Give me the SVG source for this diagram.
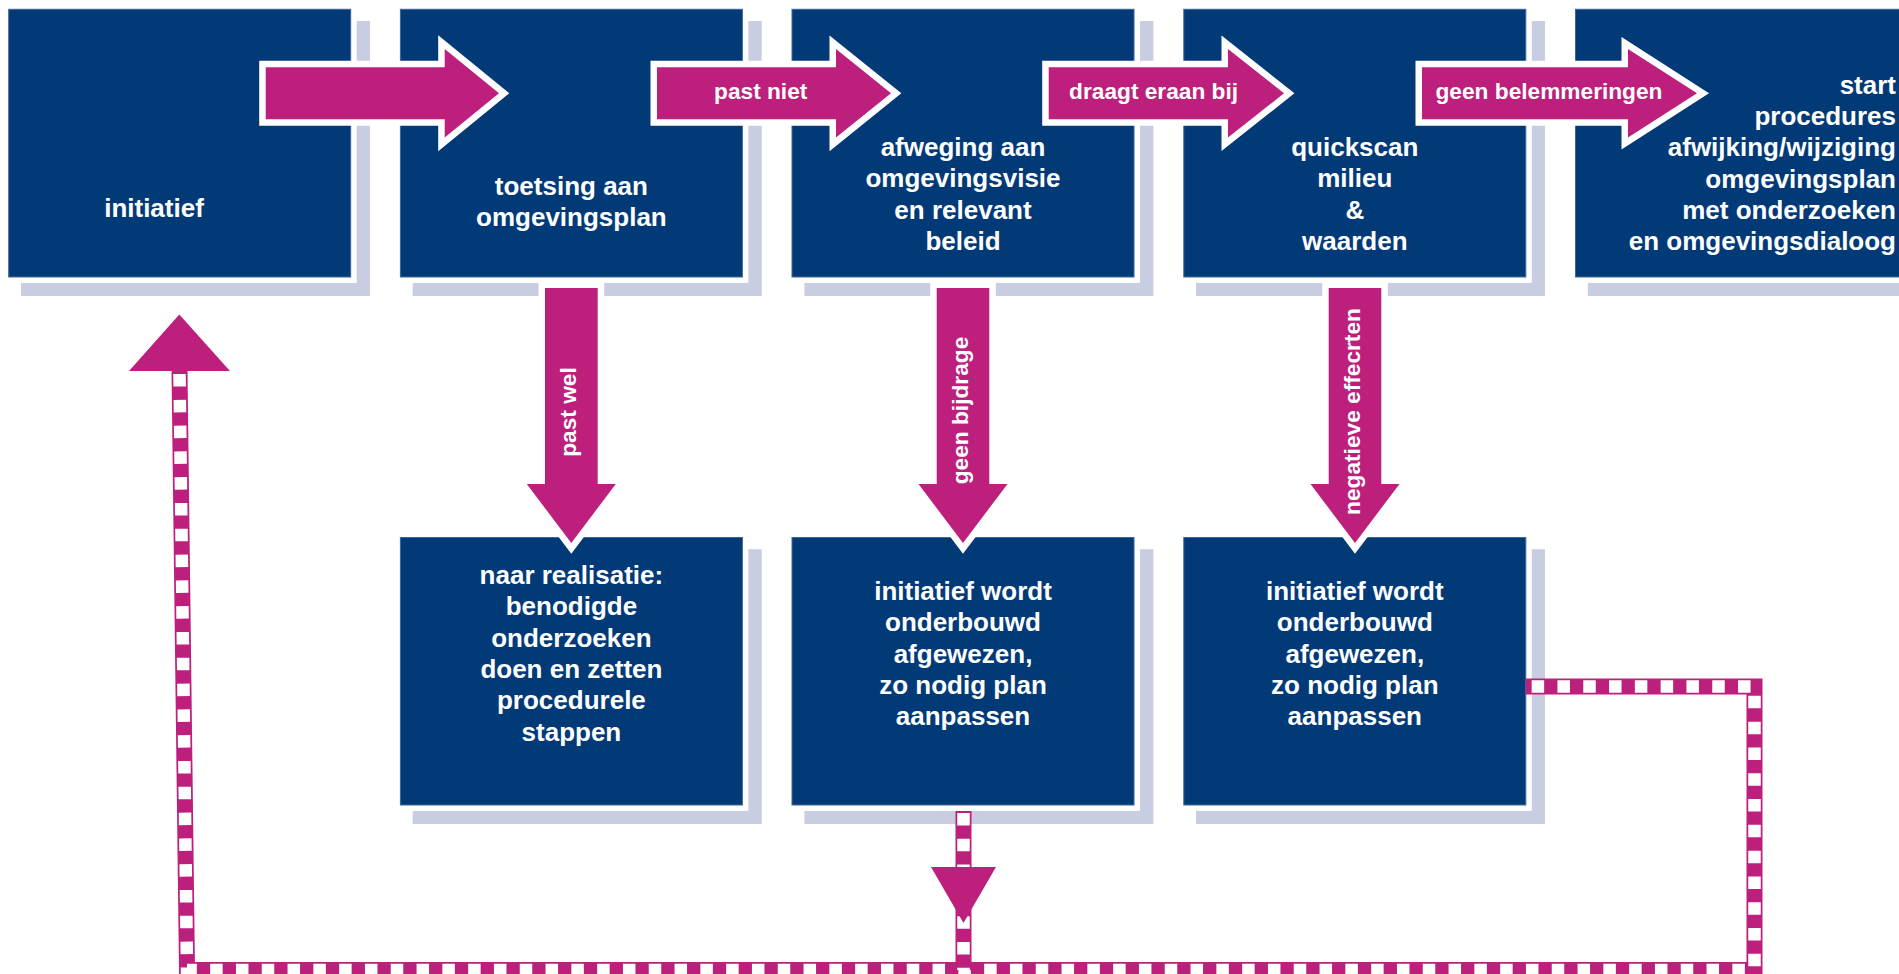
<svg xmlns="http://www.w3.org/2000/svg" width="1899" height="974" viewBox="0 0 1899 974">
<style>
.shadow{fill:#C8CDE1}
.halo{fill:#FFFFFF}
.box{fill:#023A78;stroke:#3E659A;stroke-width:1}
.t{font-family:"Liberation Sans",Arial,sans-serif;font-weight:bold;font-size:26px;fill:#FFFFFF;text-anchor:middle}
.lbl{font-family:"Liberation Sans",Arial,sans-serif;font-weight:bold;font-size:22.7px;fill:#FFFFFF;text-anchor:middle}
.arrow{fill:#BD1F7D;stroke:#FFFFFF;stroke-width:13;stroke-linejoin:miter;paint-order:stroke}
.dashbase{fill:none;stroke:#BD1F7D;stroke-width:16}
.dashtop{fill:none;stroke:#FFFFFF;stroke-width:12.5;stroke-dasharray:12.5 13.3}
.head{fill:#BD1F7D}
</style>

<g id="node-initiatief">
  <rect class="shadow" x="21" y="21" width="349" height="275"/>
  <rect class="halo" x="2.7" y="3.3" width="354" height="279.7"/>
  <rect class="box" x="8.7" y="9.3" width="342" height="267.7"/>
  <text class="t" x="154" y="217">initiatief</text>
</g>

<g id="node-toetsing">
  <rect class="shadow" x="412.7" y="21" width="349" height="275"/>
  <rect class="halo" x="394.4" y="3.3" width="354" height="279.7"/>
  <rect class="box" x="400.4" y="9.3" width="342" height="267.7"/>
  <text class="t" x="571.4" y="195">toetsing aan</text>
  <text class="t" x="571.4" y="226.3">omgevingsplan</text>
</g>

<g id="node-afweging">
  <rect class="shadow" x="804.4" y="21" width="349" height="275"/>
  <rect class="halo" x="786" y="3.3" width="354" height="279.7"/>
  <rect class="box" x="792" y="9.3" width="342" height="267.7"/>
  <text class="t" x="963" y="156">afweging aan</text>
  <text class="t" x="963" y="187.3">omgevingsvisie</text>
  <text class="t" x="963" y="218.6">en relevant</text>
  <text class="t" x="963" y="250">beleid</text>
</g>

<g id="node-quickscan">
  <rect class="shadow" x="1196" y="21" width="349" height="275"/>
  <rect class="halo" x="1177.8" y="3.3" width="354" height="279.7"/>
  <rect class="box" x="1183.8" y="9.3" width="342" height="267.7"/>
  <text class="t" x="1354.8" y="156">quickscan</text>
  <text class="t" x="1354.8" y="187.3">milieu</text>
  <text class="t" x="1354.8" y="218.6">&amp;</text>
  <text class="t" x="1354.8" y="250">waarden</text>
</g>

<g id="node-start">
  <rect class="shadow" x="1587.8" y="21" width="349" height="275"/>
  <rect class="halo" x="1569.5" y="3.3" width="354" height="279.7"/>
  <rect class="box" x="1575.5" y="9.3" width="342" height="267.7"/>
  <text class="t" style="text-anchor:end" x="1896" y="93.7">start</text>
  <text class="t" style="text-anchor:end" x="1896" y="125">procedures</text>
  <text class="t" style="text-anchor:end" x="1896" y="156.3">afwijking/wijziging</text>
  <text class="t" style="text-anchor:end" x="1896" y="187.7">omgevingsplan</text>
  <text class="t" style="text-anchor:end" x="1896" y="219">met onderzoeken</text>
  <text class="t" style="text-anchor:end" x="1896" y="250.3">en omgevingsdialoog</text>
</g>

<g id="node-realisatie">
  <rect class="shadow" x="412.7" y="549.2" width="349" height="274.8"/>
  <rect class="halo" x="394.4" y="531.5" width="354" height="279.5"/>
  <rect class="box" x="400.4" y="537.5" width="342" height="267.5"/>
  <text class="t" x="571.4" y="584">naar realisatie:</text>
  <text class="t" x="571.4" y="615.3">benodigde</text>
  <text class="t" x="571.4" y="646.6">onderzoeken</text>
  <text class="t" x="571.4" y="678">doen en zetten</text>
  <text class="t" x="571.4" y="709.3">procedurele</text>
  <text class="t" x="571.4" y="740.6">stappen</text>
</g>

<g id="node-afgewezen-1">
  <rect class="shadow" x="804.4" y="549.2" width="349" height="274.8"/>
  <rect class="halo" x="786" y="531.5" width="354" height="279.5"/>
  <rect class="box" x="792" y="537.5" width="342" height="267.5"/>
  <text class="t" x="963" y="600">initiatief wordt</text>
  <text class="t" x="963" y="631.3">onderbouwd</text>
  <text class="t" x="963" y="662.6">afgewezen,</text>
  <text class="t" x="963" y="694">zo nodig plan</text>
  <text class="t" x="963" y="725.3">aanpassen</text>
</g>

<g id="node-afgewezen-2">
  <rect class="shadow" x="1196" y="549.2" width="349" height="274.8"/>
  <rect class="halo" x="1177.8" y="531.5" width="354" height="279.5"/>
  <rect class="box" x="1183.8" y="537.5" width="342" height="267.5"/>
  <text class="t" x="1354.8" y="600">initiatief wordt</text>
  <text class="t" x="1354.8" y="631.3">onderbouwd</text>
  <text class="t" x="1354.8" y="662.6">afgewezen,</text>
  <text class="t" x="1354.8" y="694">zo nodig plan</text>
  <text class="t" x="1354.8" y="725.3">aanpassen</text>
</g>

<g id="connectors">
  <path class="dashbase" d="M179.5,370 L187,970 L1754.5,970 L1754.5,686.5 L1526,686.5"/>
  <path class="dashtop" d="M179.5,374 L187,970 L1754.5,970 L1754.5,686.5 L1526,686.5"/>
  <path class="dashbase" d="M963.5,811 L963.5,970"/>
  <path class="dashtop" d="M963.5,813 L963.5,970"/>
  <polygon class="head" points="129,371 230,371 179.3,314.5"/>
  <polygon class="head" points="931,867 996,867 963.5,923"/>
</g>

<g id="arrows">
  <polygon class="arrow" points="265.7,67.3 444.7,67.3 444.7,49 499,93.3 444.7,137.6 444.7,119.3 265.7,119.3"/>
  <polygon class="arrow" points="657,67.3 836,67.3 836,49 891,93.3 836,137.6 836,119.3 657,119.3"/>
  <text class="lbl" x="760.7" y="99">past niet</text>
  <polygon class="arrow" points="1048.7,67.3 1228,67.3 1228,49 1284,93.3 1228,137.6 1228,119.3 1048.7,119.3"/>
  <text class="lbl" x="1153.6" y="99">draagt eraan bij</text>
  <polygon class="arrow" points="1422,67.3 1628,67.3 1628,49 1697,93.3 1628,137.6 1628,119.3 1422,119.3"/>
  <text class="lbl" x="1549" y="99">geen belemmeringen</text>

  <polygon class="arrow" points="545,288 597.7,288 597.7,484 615.8,484 571.3,543 526.8,484 545,484"/>
  <text class="lbl" transform="translate(571.3,412) rotate(-90)" x="0" y="5">past wel</text>
  <polygon class="arrow" points="936.7,288 989.3,288 989.3,484 1007.5,484 963,543 918.5,484 936.7,484"/>
  <text class="lbl" transform="translate(963,410.5) rotate(-90)" x="0" y="5">geen bijdrage</text>
  <polygon class="arrow" points="1328.7,288 1381.3,288 1381.3,484 1399.5,484 1355,543 1310.5,484 1328.7,484"/>
  <text class="lbl" transform="translate(1355,411.5) rotate(-90)" x="0" y="5">negatieve effecrten</text>
</g>
</svg>
